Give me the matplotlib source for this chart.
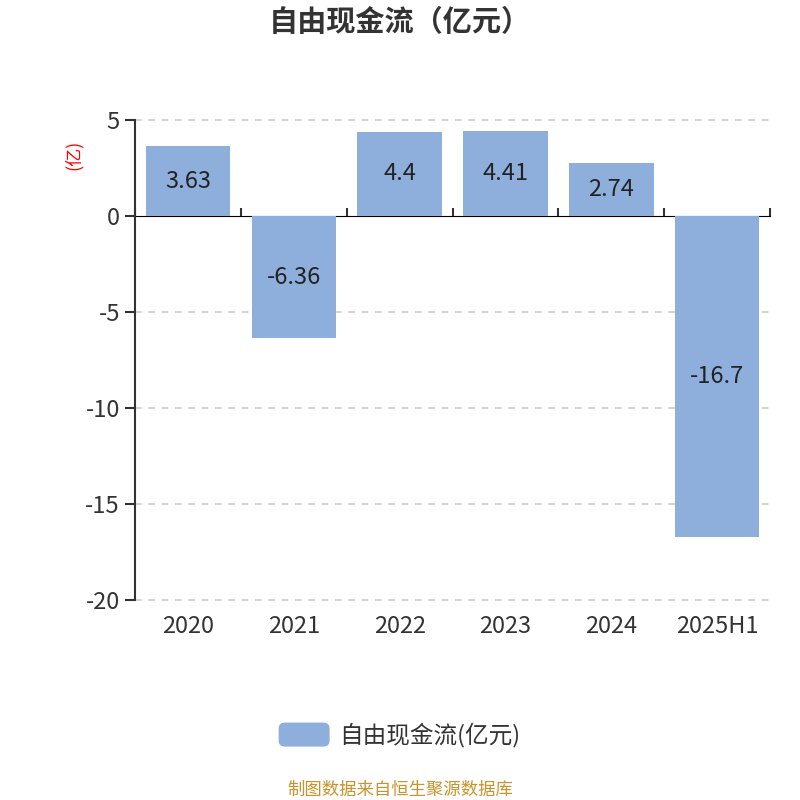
import matplotlib
matplotlib.use("Agg")
import matplotlib.pyplot as plt
from matplotlib.patches import Patch, FancyBboxPatch
from matplotlib.legend_handler import HandlerPatch

plt.rcParams['font.family'] = ['Noto Sans CJK SC', 'DejaVu Sans']

categories = ["2020", "2021", "2022", "2023", "2024", "2025H1"]
values = [3.63, -6.36, 4.4, 4.41, 2.74, -16.7]
labels = ["3.63", "-6.36", "4.4", "4.41", "2.74", "-16.7"]
yticks = [5, 0, -5, -10, -15, -20]

bar_color = "#8eaedb"
text_color = "#333333"

fig = plt.figure(figsize=(8, 8), dpi=100)
ax = fig.add_axes([0.169, 0.25, 0.7935, 0.60])

x = list(range(len(categories)))
ax.bar(x, values, width=0.8, color=bar_color, zorder=3)
for xi, v, lab in zip(x, values, labels):
    ax.text(xi, v / 2, lab, ha='center', va='center', fontsize=17, color='#222222', zorder=4)

ymin, ymax = -20, 5
ax.set_ylim(ymin, ymax)
ax.set_xlim(-0.5, len(categories) - 0.5)
ax.set_yticks(yticks)
ax.set_yticklabels([str(t) for t in yticks])
for t in yticks:
    if t != 0:
        ax.axhline(t, color='#cccccc', linestyle=(0, (4, 4)), linewidth=1.2, zorder=1, clip_on=False)

ax.set_xticks(x)
ax.set_xticklabels(categories)
ax.tick_params(axis='x', length=0, labelsize=17, colors=text_color, pad=11)
ax.tick_params(axis='y', length=7, width=1.5, labelsize=17, colors=text_color, pad=4)

for s in ['top', 'right', 'bottom']:
    ax.spines[s].set_visible(False)
ax.spines['left'].set_color(text_color)
ax.spines['left'].set_linewidth(1.5)

# zero axis line with category boundary ticks
zero_pos = (0 - ymin) / (ymax - ymin)
sec = ax.secondary_xaxis(zero_pos)
sec.set_xticks([i - 0.5 for i in range(len(categories) + 1)])
sec.set_xticklabels([])
sec.tick_params(axis='x', direction='out', length=6, width=1.5, colors=text_color)
sec.spines['bottom'].set_color(text_color)
sec.spines['bottom'].set_linewidth(1.5)

ax.set_ylabel("(亿)", color='red', fontsize=13)
ax.yaxis.set_label_coords(-0.082, 0.927)

fig.text(0.5, 0.972, "自由现金流（亿元）", ha='center', va='center', fontsize=21,
         fontweight='bold', color=text_color)


def make_round(legend, orig_handle, xdescent, ydescent, width, height, fontsize):
    return FancyBboxPatch((-xdescent, -ydescent), width, height,
                          boxstyle="round,pad=0,rounding_size=4", mutation_aspect=1)


handle = Patch(facecolor=bar_color, edgecolor=bar_color, label="自由现金流(亿元)")
leg = fig.legend(handles=[handle], loc='center', bbox_to_anchor=(0.5, 0.081), frameon=False,
                 fontsize=17, handlelength=2.1, handleheight=1.1, handletextpad=0.45,
                 handler_map={Patch: HandlerPatch(patch_func=make_round)})
for t in leg.get_texts():
    t.set_color(text_color)

fig.text(0.5, 0.013, "制图数据来自恒生聚源数据库", ha='center', va='center', fontsize=12.5,
         color='#c9922b')

fig.savefig("out.png", dpi=100)
